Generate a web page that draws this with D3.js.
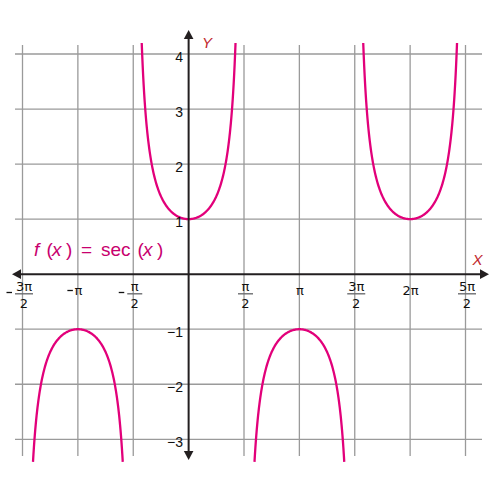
<!DOCTYPE html>
<html>
<head>
<meta charset="utf-8">
<script src="https://cdn.jsdelivr.net/npm/d3@7"></script>
<style>
  html, body { margin: 0; padding: 0; background: #fff; }
  svg { display: block; font-family: "Liberation Sans", Arial, sans-serif; }
</style>
</head>
<body>
<svg id="chart" width="500" height="500"></svg>
<script>
const PI = Math.PI;
// x ticks (multiples of pi/2) and their labels
const xTickValues = [-3*PI/2, -PI, -PI/2, PI/2, PI, 3*PI/2, 2*PI, 5*PI/2];
const xTickNeg    = [true, true, true, false, false, false, false, false];
const xTickNum    = ["3π", "π", "π", "π", "π", "3π", "2π", "5π"];
const xTickDen    = ["2", "", "2", "2", "", "2", "", "2"];
// y ticks
const yTickValues = [-3, -2, -1, 1, 2, 3, 4];
const yTickLabels = ["−3", "−2", "−1", "1", "2", "3", "4"];
// branches of sec(x): centre of each branch and its sign
const branchCenters = [-PI, 0, PI, 2*PI];
const branchSigns   = [-1, 1, -1, 1];
// visible range of the curve
const curveTop = 4.2;
const curveBottom = -3.41;
const gridXValues = [-3*PI/2, -PI, -PI/2, PI/2, PI, 3*PI/2, 2*PI, 5*PI/2];
const gridYValues = [-3, -2, -1, 1, 2, 3, 4];

const svg = d3.select("#chart");
const x = d3.scaleLinear().domain([-3*PI/2, 5*PI/2]).range([22.5, 465.5]);
const y = d3.scaleLinear().domain([-3, 4]).range([439.3, 54]);

const gridColor = "#9a9a9a";
const axisColor = "#231f20";
const curveColor = "#e2007a";
const labelColor = "#111";
const xFont = "'DejaVu Sans', sans-serif";

// grid
const grid = svg.append("g");
grid.selectAll("line.gx").data(gridXValues).enter().append("line")
  .attr("x1", d => x(d)).attr("x2", d => x(d))
  .attr("y1", 45).attr("y2", 456)
  .attr("stroke", gridColor).attr("stroke-width", 1.3);
grid.selectAll("line.gy").data(gridYValues).enter().append("line")
  .attr("y1", d => y(d)).attr("y2", d => y(d))
  .attr("x1", 15).attr("x2", 482)
  .attr("stroke", gridColor).attr("stroke-width", 1.3);

// curve
const line = d3.line().x(d => x(d[0])).y(d => y(d[1]));
branchCenters.forEach((c, i) => {
  const lim = branchSigns[i] > 0 ? curveTop : -curveBottom;
  const a = Math.acos(1 / lim);
  const pts = [];
  const n = 200;
  for (let k = 0; k <= n; k++) {
    const t = c - a + 2 * a * k / n;
    pts.push([t, 1 / Math.cos(t)]);
  }
  svg.append("path").attr("d", line(pts))
    .attr("fill", "none").attr("stroke", curveColor).attr("stroke-width", 2.3);
});

// axes
const x0 = x(0), y0 = y(0);
svg.append("line").attr("x1", 20).attr("x2", 482).attr("y1", y0).attr("y2", y0)
  .attr("stroke", axisColor).attr("stroke-width", 2);
svg.append("line").attr("x1", x0).attr("x2", x0).attr("y1", 37).attr("y2", 452)
  .attr("stroke", axisColor).attr("stroke-width", 2);
// arrowheads
svg.append("path").attr("d", `M${x0},30 L${x0-4.8},39 L${x0+4.8},39 Z`).attr("fill", axisColor);
svg.append("path").attr("d", `M${x0},460 L${x0-4.8},451 L${x0+4.8},451 Z`).attr("fill", axisColor);
svg.append("path").attr("d", `M489,${y0} L480,${y0-4.8} L480,${y0+4.8} Z`).attr("fill", axisColor);
svg.append("path").attr("d", `M12,${y0} L21,${y0-4.8} L21,${y0+4.8} Z`).attr("fill", axisColor);

// y tick labels
svg.selectAll("text.yl").data(yTickValues).enter().append("text")
  .attr("x", 183).attr("y", d => y(d) + 7.5)
  .attr("text-anchor", "end").attr("font-size", 14).attr("fill", labelColor)
  .text((d, i) => yTickLabels[i]);

// x tick labels
xTickValues.forEach((v, i) => {
  const cx = x(v);
  const g = svg.append("g").attr("font-family", xFont);
  const isFrac = xTickDen[i] !== "";
  if (isFrac) {
    const half = xTickNum[i].length > 1 ? 9 : 7.5;
    const shift = 1.5;
    g.append("text").attr("x", cx + shift).attr("y", 291).attr("text-anchor", "middle")
      .attr("font-size", 13).attr("fill", labelColor).text(xTickNum[i]);
    g.append("line").attr("x1", cx + shift - half).attr("x2", cx + shift + half)
      .attr("y1", 293.8).attr("y2", 293.8).attr("stroke", "#6d6e71").attr("stroke-width", 1.4);
    g.append("text").attr("x", cx + shift).attr("y", 307.5).attr("text-anchor", "middle")
      .attr("font-size", 13).attr("fill", labelColor).text(xTickDen[i]);
    if (xTickNeg[i]) {
      g.append("line").attr("x1", cx + shift - half - 8.5).attr("x2", cx + shift - half - 3)
        .attr("y1", 292.5).attr("y2", 292.5).attr("stroke", labelColor).attr("stroke-width", 1.3);
    }
  } else {
    g.append("text").attr("x", cx + 0.5).attr("y", 294.5).attr("text-anchor", "middle")
      .attr("font-size", 13).attr("fill", labelColor).text(xTickNum[i]);
    if (xTickNeg[i]) {
      g.append("line").attr("x1", cx - 10.5).attr("x2", cx - 5)
        .attr("y1", 290.5).attr("y2", 290.5).attr("stroke", labelColor).attr("stroke-width", 1.3);
    }
  }
});

// axis names
svg.append("text").attr("x", 202).attr("y", 48).attr("font-size", 15)
  .attr("font-style", "italic").attr("fill", "#c1272d").text("Y");
svg.append("text").attr("x", 472.5).attr("y", 264.5).attr("font-size", 15)
  .attr("font-style", "italic").attr("fill", "#c1272d").text("X");

// function label
const lbl = svg.append("text").attr("y", 256).attr("font-size", 19).attr("fill", "#c8006e");
const parts = [["f", 34, true], ["(", 46.5, false], ["x", 52, true], [")", 66, false],
               ["=", 81, false], ["sec", 101, false], ["(", 137.5, false], ["x", 143, true], [")", 157, false]];
parts.forEach(p => {
  lbl.append("tspan").attr("x", p[1]).attr("font-style", p[2] ? "italic" : "normal").text(p[0]);
});
</script>
</body>
</html>
